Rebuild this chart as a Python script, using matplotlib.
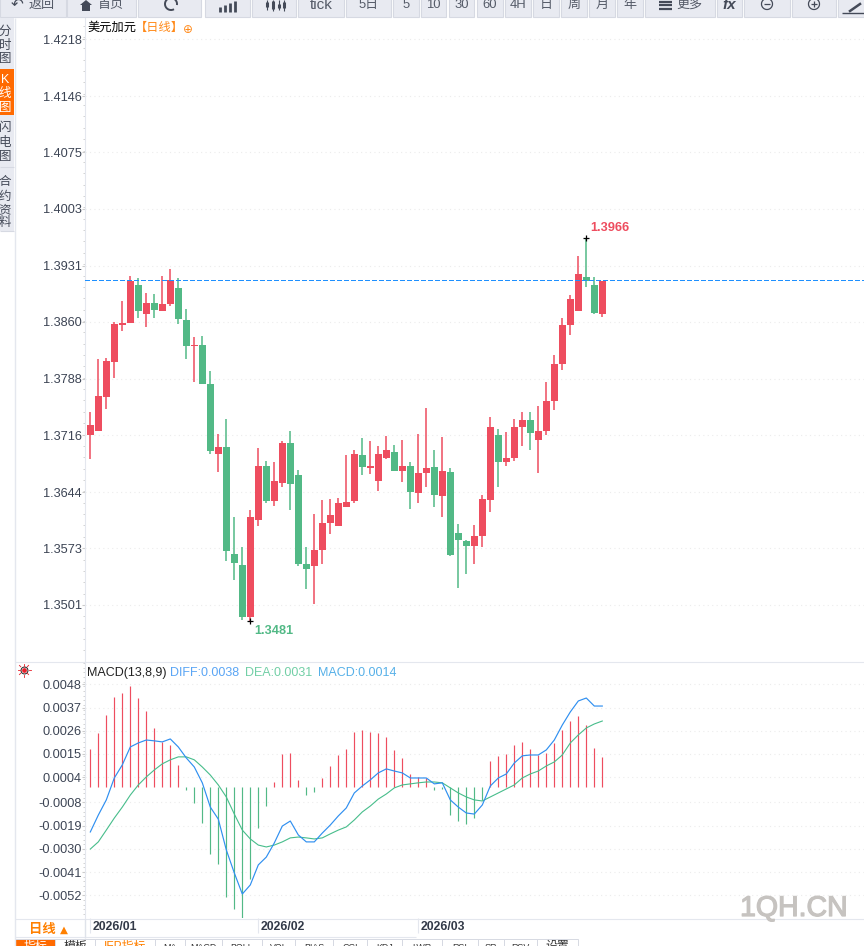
import math
import matplotlib
matplotlib.use('Agg')
import matplotlib.pyplot as plt
import matplotlib.patheffects as pe
from matplotlib.patches import Rectangle, Arc, Polygon
from matplotlib.ticker import AutoMinorLocator

plt.rcParams['font.family'] = ['Liberation Sans', 'Noto Sans CJK SC', 'DejaVu Sans']

# daily candles
opens = [1.3716, 1.3721, 1.3765, 1.3809, 1.3856, 1.3858, 1.3907, 1.3870, 1.3884, 1.3874, 1.3882, 1.3903, 1.3862,
         1.3829, 1.3831, 1.3781, 1.3692, 1.3701, 1.3566, 1.3552, 1.3486, 1.3609, 1.3677, 1.3633, 1.3656, 1.3706,
         1.3666, 1.3553, 1.3550, 1.3571, 1.3605, 1.3601, 1.3625, 1.3633, 1.3691, 1.3675, 1.3658, 1.3687, 1.3695,
         1.3671, 1.3677, 1.3643, 1.3668, 1.3676, 1.3639, 1.3670, 1.3592, 1.3582, 1.3576, 1.3588, 1.3634, 1.3716,
         1.3682, 1.3687, 1.3727, 1.3735, 1.3710, 1.3721, 1.3760, 1.3806, 1.3856, 1.3874, 1.3917, 1.3907, 1.3870]
highs = [1.3746, 1.3813, 1.3814, 1.3860, 1.3886, 1.3918, 1.3915, 1.3896, 1.3895, 1.3918, 1.3927, 1.3915, 1.3876,
         1.3841, 1.3842, 1.3798, 1.3718, 1.3737, 1.3612, 1.3574, 1.3621, 1.3700, 1.3684, 1.3682, 1.3709, 1.3721,
         1.3672, 1.3574, 1.3616, 1.3634, 1.3635, 1.3637, 1.3691, 1.3697, 1.3713, 1.3709, 1.3702, 1.3715, 1.3704,
         1.3710, 1.3682, 1.3718, 1.3751, 1.3697, 1.3714, 1.3675, 1.3604, 1.3583, 1.3602, 1.3640, 1.3739, 1.3724,
         1.3720, 1.3737, 1.3746, 1.3746, 1.3753, 1.3784, 1.3818, 1.3865, 1.3894, 1.3943, 1.3966, 1.3917, 1.3912]
lows = [1.3686, 1.3721, 1.3750, 1.3789, 1.3848, 1.3858, 1.3865, 1.3853, 1.3865, 1.3874, 1.3880, 1.3857, 1.3813,
        1.3784, 1.3781, 1.3692, 1.3670, 1.3557, 1.3533, 1.3482, 1.3481, 1.3601, 1.3630, 1.3626, 1.3651, 1.3621,
        1.3550, 1.3521, 1.3502, 1.3553, 1.3591, 1.3601, 1.3625, 1.3630, 1.3666, 1.3667, 1.3645, 1.3686, 1.3671,
        1.3657, 1.3623, 1.3630, 1.3651, 1.3625, 1.3612, 1.3563, 1.3522, 1.3540, 1.3553, 1.3574, 1.3619, 1.3651,
        1.3677, 1.3684, 1.3702, 1.3697, 1.3668, 1.3716, 1.3748, 1.3799, 1.3843, 1.3874, 1.3904, 1.3870, 1.3866]
closes = [1.3729, 1.3766, 1.3810, 1.3857, 1.3858, 1.3912, 1.3874, 1.3884, 1.3875, 1.3882, 1.3913, 1.3864, 1.3829,
          1.3831, 1.3781, 1.3696, 1.3701, 1.3569, 1.3554, 1.3486, 1.3612, 1.3677, 1.3633, 1.3658, 1.3706, 1.3654,
          1.3553, 1.3547, 1.3571, 1.3605, 1.3615, 1.3630, 1.3632, 1.3692, 1.3676, 1.3677, 1.3692, 1.3697, 1.3671,
          1.3677, 1.3644, 1.3668, 1.3675, 1.3640, 1.3671, 1.3564, 1.3583, 1.3576, 1.3588, 1.3635, 1.3727, 1.3682,
          1.3687, 1.3727, 1.3735, 1.3719, 1.3721, 1.3760, 1.3806, 1.3856, 1.3889, 1.3921, 1.3912, 1.3871, 1.3912]
last_price = 1.3913
price_ticks = [1.4218, 1.4146, 1.4075, 1.4003, 1.3931, 1.3860, 1.3788, 1.3716, 1.3644, 1.3573, 1.3501]

# MACD pane
diff = [-0.00220, -0.00140, -0.00068, 0.00036, 0.00098, 0.00183, 0.00202, 0.00216, 0.00212, 0.00207, 0.00221,
        0.00183, 0.00131, 0.00088, 0.00013, -0.00102, -0.00159, -0.00305, -0.00414, -0.00514, -0.00471, -0.00376,
        -0.00339, -0.00272, -0.00192, -0.00168, -0.00234, -0.00267, -0.00267, -0.00225, -0.00187, -0.00144,
        -0.00106, -0.00035, -0.00002, 0.00027, 0.00060, 0.00079, 0.00069, 0.00060, 0.00036, 0.00036, 0.00036,
        0.00008, 0.00013, -0.00068, -0.00102, -0.00130, -0.00135, -0.00092, -0.00002, 0.00036, 0.00055, 0.00107,
        0.00141, 0.00145, 0.00145, 0.00169, 0.00216, 0.00287, 0.00349, 0.00401, 0.00415, 0.00377, 0.00377]
dea = [-0.00301, -0.00267, -0.00211, -0.00154, -0.00102, -0.00045, 0.00003, 0.00041, 0.00074, 0.00103, 0.00122,
       0.00136, 0.00136, 0.00122, 0.00088, 0.00050, 0.00003, -0.00054, -0.00135, -0.00211, -0.00253, -0.00282,
       -0.00291, -0.00282, -0.00267, -0.00248, -0.00244, -0.00248, -0.00253, -0.00248, -0.00229, -0.00211,
       -0.00196, -0.00163, -0.00125, -0.00097, -0.00064, -0.00040, -0.00011, 0.00003, 0.00008, 0.00013, 0.00017,
       0.00017, 0.00013, -0.00011, -0.00035, -0.00054, -0.00068, -0.00073, -0.00054, -0.00035, -0.00016, 0.00003,
       0.00036, 0.00055, 0.00069, 0.00093, 0.00112, 0.00145, 0.00202, 0.00240, 0.00273, 0.00292, 0.00306]
hist_tips = [0.00174, 0.00250, 0.00335, 0.00420, 0.00439, 0.00472, 0.00415, 0.00354, 0.00273, 0.00207, 0.00193,
             0.00098, -0.00021, -0.00083, -0.00177, -0.00324, -0.00372, -0.00528, -0.00585, -0.00633, -0.00443,
             -0.00201, -0.00097, 0.00017, 0.00150, 0.00155, 0.00027, -0.00045, -0.00030, 0.00036, 0.00093, 0.00145,
             0.00174, 0.00254, 0.00264, 0.00254, 0.00250, 0.00231, 0.00169, 0.00131, 0.00055, 0.00041, 0.00036,
             -0.00021, -0.00016, -0.00140, -0.00168, -0.00182, -0.00154, -0.00068, 0.00117, 0.00141, 0.00150,
             0.00193, 0.00207, 0.00174, 0.00145, 0.00155, 0.00202, 0.00264, 0.00306, 0.00330, 0.00287, 0.00178,
             0.00136]
hist_base = -0.00007
macd_ticks = [0.0048, 0.0037, 0.0026, 0.0015, 0.0004, -0.0008, -0.0019, -0.0030, -0.0041, -0.0052]
month_pos = [0, 21, 41]
month_labels = ['2026/01', '2026/02', '2026/03']

toolbar = [(0, 66, '返回'), (67, 136, '首页'), (138, 201, ''), (205, 250, ''), (252, 296, ''), (298, 344, 'tick'),
           (346, 391, '5日'), (393, 419, '5'), (421, 446, '10'), (449, 474, '30'), (477, 503, '60'), (505, 531, '4H'),
           (533, 559, '日'), (561, 587, '周'), (589, 615, '月'), (617, 643, '年'), (645, 715, '更多'), (717, 742, ''),
           (744, 790, ''), (792, 836, ''), (838, 864, '')]
tabs = [(15, 55, '指标'), (55, 95, '模板'), (95, 155, 'IFP指标'), (155, 185, 'MA'), (185, 222, 'MACD'), (222, 262, 'BOLL'),
        (262, 295, 'VOL'), (295, 333, 'BIAS'), (333, 367, 'CCI'), (367, 402, 'KDJ'), (402, 442, 'LWR'), (442, 478, 'RSI'),
        (478, 504, 'SR'), (504, 537, 'RSV'), (537, 578, '设置')]

RED = '#ee4d5f'
GREEN = '#52b986'
BLUE = '#2f8ff0'
GRID = '#ececec'
LINE = '#e4e7ee'
TEXT = '#3c4454'
ICON = '#444a58'
W, H = 864, 946
X0, DX = 90.3, 8.0


def pane(top, bottom):
    ax = fig.add_axes([85 / W, 1 - bottom / H, 1 - 85 / W, (bottom - top) / H])
    ax.set_xlim((85 - X0) / DX, (W - X0) / DX)
    for s in ['top', 'right', 'bottom']:
        ax.spines[s].set_visible(False)
    ax.spines['left'].set_color(LINE)
    ax.grid(axis='y', color=GRID, linestyle=(0, (1, 3)), linewidth=0.8)
    ax.set_axisbelow(True)
    ax.yaxis.set_minor_locator(AutoMinorLocator(5))
    ax.tick_params(axis='y', which='major', length=2, color='#cccccc', labelsize=9.2, labelcolor=TEXT, pad=0.5)
    ax.tick_params(axis='y', which='minor', length=1.2, color='#cccccc')
    return ax


fig = plt.figure(figsize=(W / 100, H / 100), dpi=100, facecolor='white')

# price pane: y scale fitted to the gridlines of the picture
ax = pane(18, 662)
ax.set_ylim(1.42678 - 662 * 0.00012675, 1.42678 - 18 * 0.00012675)
ax.set_xticks([])
xs = list(range(len(closes)))
colors = [RED if c >= o else GREEN for o, c in zip(opens, closes)]
ax.vlines(xs, lows, highs, colors=colors, linewidth=1.1, zorder=2)
ax.bar(xs, [abs(c - o) for o, c in zip(opens, closes)], bottom=[min(o, c) for o, c in zip(opens, closes)],
       width=0.875, color=colors, linewidth=0, zorder=3)
ax.axhline(last_price, color='#1e90ff', linestyle=(0, (3, 2)), linewidth=1.0, zorder=4, antialiased=False)
ax.set_yticks(price_ticks)
ax.set_yticklabels(['%.4f' % t for t in price_ticks])

imax = highs.index(max(highs))
imin = lows.index(min(lows))
ax.plot([imax, imin], [highs[imax], lows[imin]], '+', color='black', markersize=5, markeredgewidth=0.9, zorder=5)
ax.annotate('%.4f' % highs[imax], (imax, highs[imax]), xytext=(3, 3), textcoords='offset points',
            color=RED, fontsize=9.2, fontweight='bold', va='bottom')
ax.annotate('%.4f' % lows[imin], (imin, lows[imin]), xytext=(3, -3), textcoords='offset points',
            color=GREEN, fontsize=9.2, fontweight='bold', va='top')

# MACD pane
ax2 = pane(662, 918)
ax2.set_ylim(0.037236 - 918 * 0.0000474, 0.037236 - 662 * 0.0000474)
hist_colors = [RED if t > hist_base else GREEN for t in hist_tips]
ax2.vlines(xs, hist_base, hist_tips, colors=hist_colors, linewidth=0.85, zorder=2)
ax2.plot(xs, dea, color='#47bd8b', linewidth=0.8, zorder=3)
ax2.plot(xs, diff, color=BLUE, linewidth=0.85, zorder=4)
ax2.set_yticks(macd_ticks)
ax2.set_yticklabels(['%.4f' % t for t in macd_ticks])
ax2.set_xticks(month_pos)
ax2.set_xticklabels([])
ax2.tick_params(axis='x', length=11, color=LINE)
for p, lab in zip(month_pos, month_labels):
    ax2.annotate(lab, (p, 0), xycoords=('data', 'axes fraction'), xytext=(1.5, -6.5), textcoords='offset points',
                 fontsize=8.8, fontweight='bold', color='#333a48', va='center')

# everything around the chart, in pixel coordinates
ui = fig.add_axes([0, 0, 1, 1], zorder=10)
ui.set_xlim(0, W)
ui.set_ylim(H, 0)
ui.axis('off')
ui.patch.set_alpha(0)

for x0, x1, lab in toolbar:
    ui.add_patch(Rectangle((x0, -2), x1 - x0, 19, facecolor='#e8eaf1', edgecolor='#d6d9e2', linewidth=0.8))
    if lab:
        cx = (x0 + x1) / 2 + (9 if lab in ('返回', '首页', '更多') else 0)
        ui.text(cx, 5, lab, fontsize=9.4 if lab != 'tick' else 11, color='#555b68', ha='center', va='center')
# toolbar icons
ui.text(17, 4, '\u21b6', fontsize=11, color=ICON, ha='center', va='center', family=['DejaVu Sans'])
ui.add_patch(Polygon([(80, 5), (86, 0), (92, 5), (90, 5), (90, 11), (82, 11), (82, 5)], facecolor=ICON, edgecolor='none'))
ui.add_patch(Arc((171, 4), 12, 12, theta1=-300, theta2=10, color=ICON, linewidth=1.4))
ui.vlines([220, 225, 230, 235], [7, 5, 3, 1], [12, 12, 12, 12], color=ICON, linewidth=2)
ui.vlines([267, 273, 279, 284], [0, 0, 0, 0], [10, 11, 10, 11], color=ICON, linewidth=0.8)
ui.vlines([267, 273, 279, 284], [2, 1, 4, 2], [7, 9, 8, 8], color=ICON, linewidth=2.2)
ui.hlines([2, 5.5, 9], 659, 672, color=ICON, linewidth=1.6)
ui.text(729, 5, 'fx', fontsize=11, fontweight='bold', style='italic', color=ICON, ha='center', va='center')
ui.add_patch(Arc((767, 4), 11, 11, color=ICON, linewidth=0.9))
ui.add_patch(Arc((814, 4), 11, 11, color=ICON, linewidth=0.9))
ui.hlines(4, 764, 770, color=ICON, linewidth=0.9)
ui.hlines(4, 811, 817, color=ICON, linewidth=0.9)
ui.vlines(814, 1, 7, color=ICON, linewidth=0.9)
ui.plot([850, 860], [11, 4], color=ICON, linewidth=1.8)
ui.hlines(13, 842, 864, color=ICON, linewidth=1)

# left side tabs
ui.add_patch(Rectangle((0, 18), 14, 213, facecolor='#e8eaf1', edgecolor='none'))
ui.add_patch(Rectangle((0, 69), 14, 46, facecolor='#ff6a00', edgecolor='none'))
ui.hlines([167, 231], 0, 14, color='#d6d9e2', linewidth=0.8)
for chars, ys, col in [('分时图', (32, 46, 59), ICON), ('K线图', (80, 94, 108), 'white'),
                       ('闪电图', (128, 143, 157), ICON), ('合约资料', (182, 197, 210, 223), ICON)]:
    for ch, y in zip(chars, ys):
        ui.text(5, y, ch, fontsize=9, color=col, ha='center', va='center')
ui.vlines(14.5, 18, H, color=LINE, linewidth=1)

# titles
ui.text(87, 28, '美元加元', fontsize=8.8, color='black', va='center')
ui.text(135, 28, '【日线】', fontsize=8.8, color='#ff8a1a', va='center')
ui.text(188, 29.5, '\u2295', fontsize=8.5, color='#ff8a1a', ha='center', va='center', family=['DejaVu Sans'])
ui.text(87, 672.5, 'MACD(13,8,9)', fontsize=9.0, color='#222222', va='center')
ui.text(170, 672.5, 'DIFF:0.0038', fontsize=9.0, color='#5aa5f5', va='center')
ui.text(245, 672.5, 'DEA:0.0031', fontsize=9.0, color='#72cfa6', va='center')
ui.text(318, 672.5, 'MACD:0.0014', fontsize=9.0, color='#56b0e8', va='center')

# pane border and the sun icon
ui.hlines(662, 15, W, color=LINE, linewidth=0.8)
ui.plot([24], [670], 'o', color='#e8202a', markersize=2.4)
ui.plot([24], [670], 'o', mfc='none', mec='#222222', markersize=5, markeredgewidth=0.7)
for k in range(8):
    a = k * math.pi / 4
    ui.plot([24 + 4.5 * math.cos(a), 24 + 6.5 * math.sin(a + math.pi / 2) * -1 * -1],
            [670 + 4.5 * math.sin(a), 670 + 6.5 * math.sin(a)], color='#e8202a', linewidth=0.6)

# bottom rows
ui.hlines(919, 15, W, color=LINE, linewidth=0.8)
ui.hlines(936.7, 15, 416, color=LINE, linewidth=0.8)
ui.vlines(85, 919, 938, color='#dfe3ea', linewidth=1)
ui.text(29, 929.5, '日线', fontsize=9.6, fontweight='bold', color='#ff8000', va='center')
ui.text(63.5, 930, '\u25b2', fontsize=7.5, color='#ff8000', ha='center', va='center', family=['DejaVu Sans'])
for x0, x1, lab in tabs:
    active = lab == '指标'
    ui.add_patch(Rectangle((x0, 939), x1 - x0, 10, facecolor='#ff6a00' if active else 'white',
                           edgecolor='#d6d9e2', linewidth=0.7))
    col = 'white' if active else ('#ff8000' if lab == 'IFP指标' else '#333333')
    size = 6.4 if lab.isascii() else 8.6
    ui.text((x0 + x1) / 2, 947, lab, fontsize=size, color=col, ha='center', va='center', clip_on=True)

wm = ui.text(794, 909, '1QH.CN', fontsize=20.5, color='#c6c3c0', ha='center', va='center')
wm.set_path_effects([pe.withStroke(linewidth=0.9, foreground='#c6c3c0')])

fig.savefig('out.png', dpi=100)
